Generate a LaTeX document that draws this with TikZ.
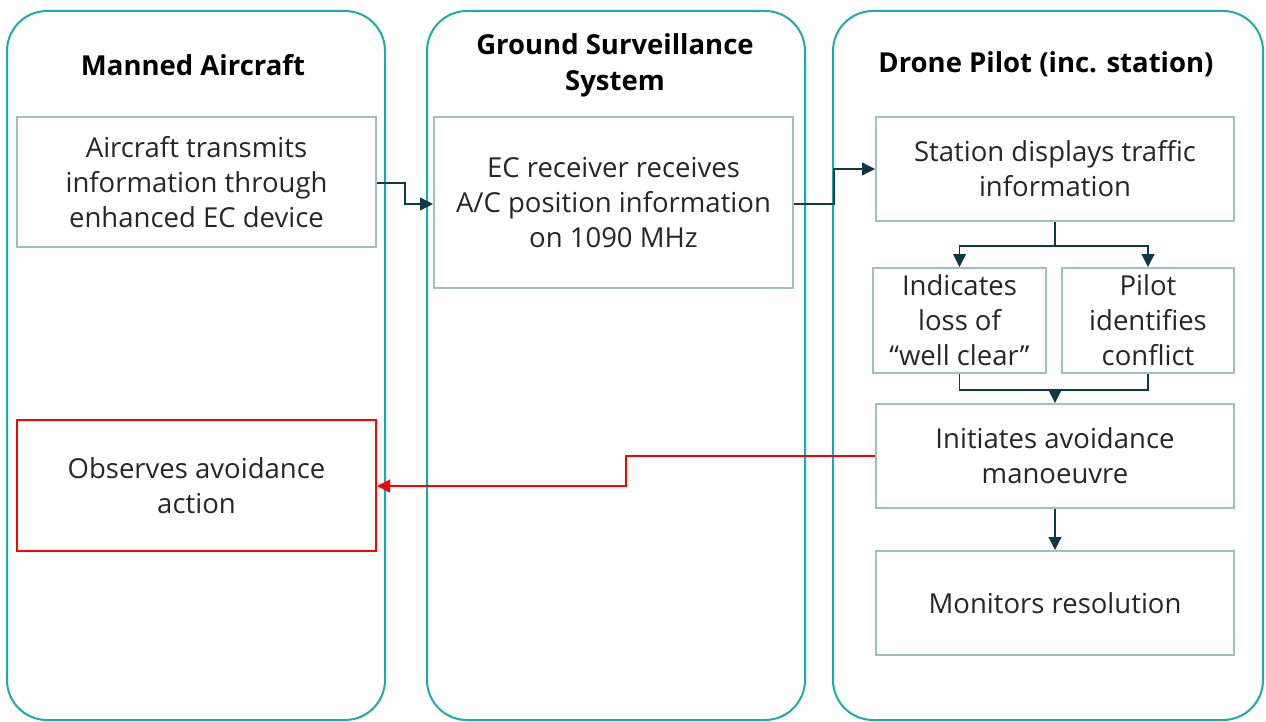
\documentclass[tikz,border=0pt]{standalone}
\usepackage{fontspec}
\setmainfont{Open Sans}
\usetikzlibrary{arrows.meta}
\definecolor{laneC}{HTML}{1AACAC}
\definecolor{boxC}{HTML}{9FC0C2}
\definecolor{arrC}{HTML}{0E3A48}
\definecolor{redC}{HTML}{FF0000}
\begin{document}
\begin{tikzpicture}[x=1pt,y=-1pt,
  lane/.style={draw=laneC, line width=2pt, rounded corners=40pt, inner sep=0pt},
  title/.style={font=\fontsize{27.5}{36}\selectfont\bfseries, align=center, inner sep=0pt},
  box/.style={draw=boxC, line width=2pt, align=center, inner sep=0pt, font=\fontsize{27.5}{35}\selectfont, text=black!85},
  redbox/.style={box, draw=redC},
  conn/.style={draw=arrC, line width=1.2pt, -{Triangle[length=13pt,width=13pt]}},
  plain/.style={draw=arrC, line width=1.2pt},
  redconn/.style={draw=redC, line width=1.2pt, -{Triangle[length=13pt,width=13pt]}}]
\useasboundingbox (0,0) rectangle (1266,722);
% lanes
\node[lane, minimum width=378pt, minimum height=709pt] (L1) at (196,365.5) {};
\node[lane, minimum width=378pt, minimum height=709pt] (L2) at (616,365.5) {};
\node[lane, minimum width=430pt, minimum height=709pt] (L3) at (1048,365.5) {};
% titles
\node[title] (T1) at (193,65) {Manned Aircraft};
\node[title] (T2) at (615,65) {Ground Surveillance\\System};
\node[title] (T3) at (1046,64) {Drone Pilot (inc. station)};
% boxes
\node[box, minimum width=359pt, minimum height=130pt] (A) at (196.5,182) {Aircraft transmits\\information through\\enhanced EC device};
\node[box, minimum width=359pt, minimum height=171pt] (B) at (613.5,202.5) {EC receiver receives\\A/C position information\\on 1090 MHz};
\node[box, minimum width=358pt, minimum height=104pt] (C) at (1055,169) {Station displays traffic\\information};
\node[box, minimum width=173pt, minimum height=105pt] (D) at (959.5,320.5) {Indicates\\loss of\\“well clear”};
\node[box, minimum width=172pt, minimum height=105pt] (E) at (1148,320.5) {Pilot\\identifies\\conflict};
\node[box, minimum width=358pt, minimum height=104pt] (F) at (1055,456) {Initiates avoidance\\manoeuvre};
\node[box, minimum width=358pt, minimum height=104pt] (G) at (1055,603) {Monitors resolution};
\node[redbox, minimum width=359pt, minimum height=131pt] (H) at (196.5,485.5) {Observes avoidance\\action};
% connectors
\coordinate (j1) at (1055,246);
\coordinate (j2) at (1055,390);
\draw[conn] (A.east |- 0,183) -- (405,183) -- (405,204) -- (B.west |- 0,204);
\draw[conn] (B.east |- 0,204) -- (834,204) -- (834,169) -- (C.west);
\draw[plain] (C.south) -- (j1);
\draw[conn] (j1) -- (959.5,246) -- (D.north);
\draw[conn] (j1) -- (1148,246) -- (E.north);
\draw[plain] (D.south) -- (959.5,390) -- (1148,390) -- (E.south);
\draw[conn] (j2) -- (F.north);
\draw[conn] (F.south) -- (G.north);
\draw[redconn] (F.west) -- (626,456) -- (626,486) -- (H.east |- 0,486);
\end{tikzpicture}
\end{document}
